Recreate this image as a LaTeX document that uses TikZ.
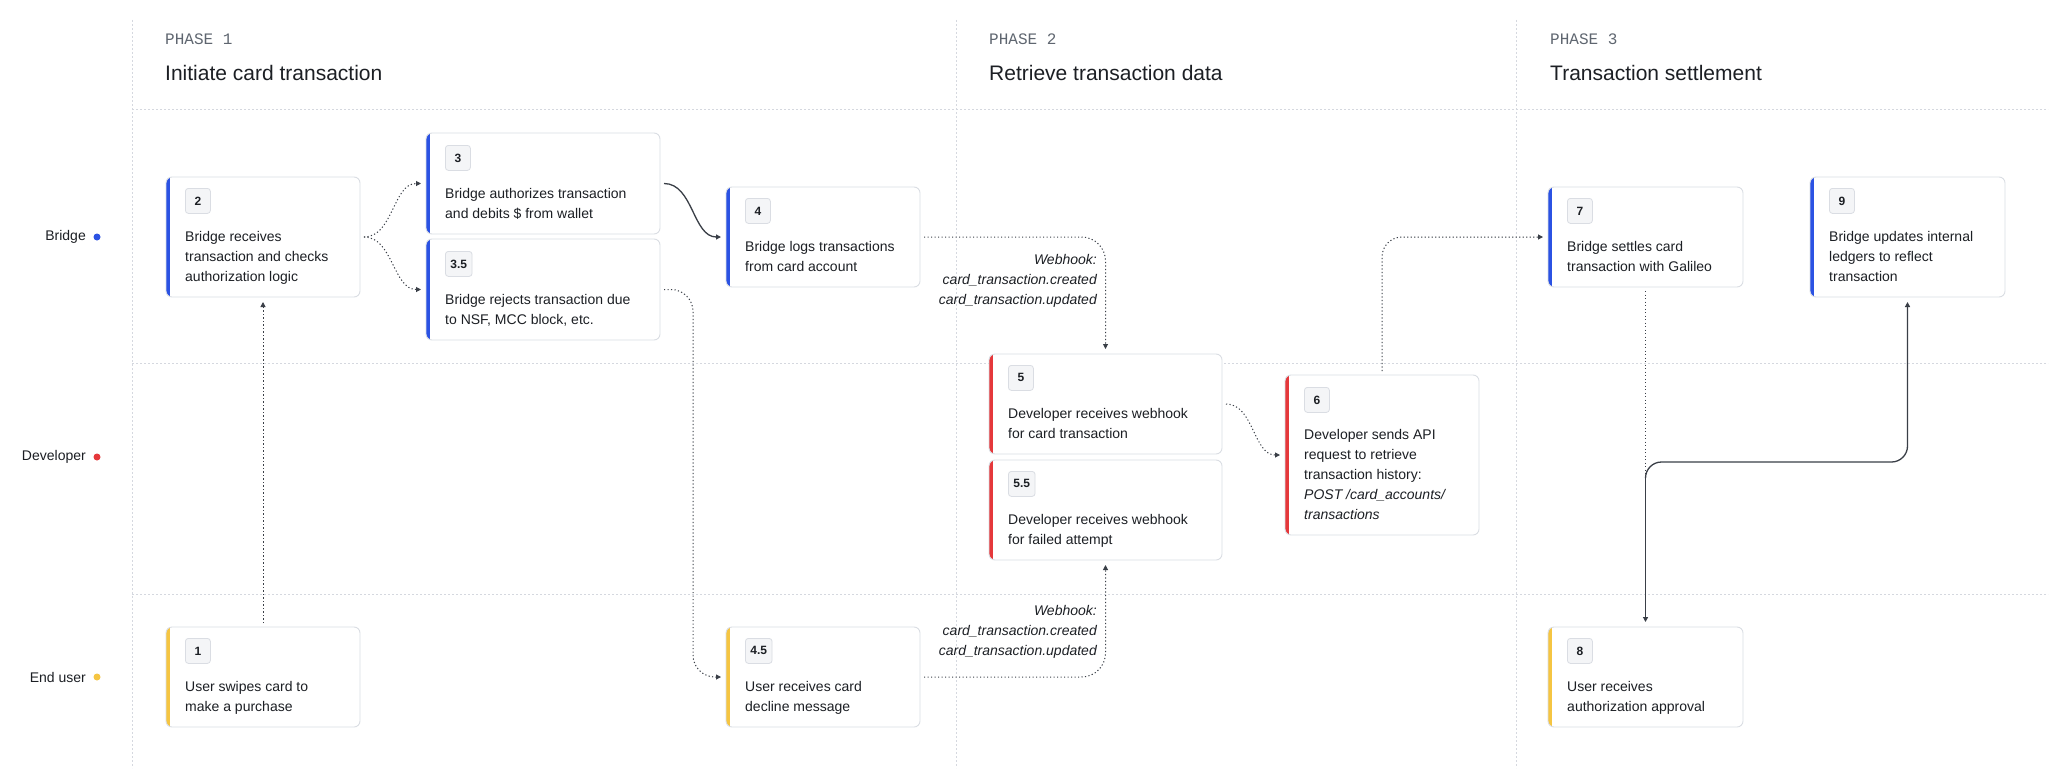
\documentclass[tikz,border=0pt]{standalone}
\usepackage{fontspec}
\setmainfont{Liberation Sans}
\setmonofont{Liberation Mono}
\usetikzlibrary{arrows.meta,calc}

\definecolor{bridgeblue}{HTML}{2B52E3}
\definecolor{devred}{HTML}{E5383B}
\definecolor{useryellow}{HTML}{F5C542}
\definecolor{gridgray}{HTML}{D5D8DF}
\definecolor{cardborder}{HTML}{DADDE3}
\definecolor{badgefill}{HTML}{F4F5F7}
\definecolor{inkdark}{HTML}{1C1F24}
\definecolor{phasegray}{HTML}{5F6670}
\definecolor{linkgray}{HTML}{3A3F47}

\tikzset{
    card/.style={draw=cardborder, line width=0.9pt, fill=white, rounded corners=6pt,
        anchor=north west, inner sep=0pt, outer sep=0pt,
        path picture={\fill[#1, sharp corners] (path picture bounding box.north west)
            rectangle ([xshift=3.5pt]path picture bounding box.south west);}},
    badge/.style={draw=cardborder, fill=badgefill, rounded corners=3pt, anchor=north west,
        minimum width=25pt, minimum height=25pt, inner xsep=5pt, inner ysep=0pt,
        line width=0.8pt, text=inkdark, font=\bfseries\fontsize{12}{12}\selectfont},
    cardtext/.style={anchor=north west, inner sep=0pt, align=left, text=inkdark,
        font=\fontsize{14}{20}\selectfont},
    hooklabel/.style={anchor=north east, inner sep=0pt, align=right, text=inkdark,
        font=\fontsize{14}{20}\selectfont\itshape},
    phase/.style={anchor=west, inner sep=0pt, text=phasegray, font=\ttfamily\fontsize{16}{16}\selectfont},
    phasetitle/.style={anchor=west, inner sep=0pt, text=inkdark, font=\fontsize{21}{21}\selectfont},
    lanelabel/.style={anchor=east, inner sep=0pt, text=inkdark, font=\fontsize{14}{14}\selectfont},
    lanedot/.style={circle, inner sep=0pt, minimum size=7pt},
    grid/.style={draw=gridgray, line width=0.7pt, dash pattern=on 2pt off 2pt},
    link/.style={draw=linkgray, line width=1pt, dash pattern=on 1.2pt off 2.3pt,
        -{Triangle[length=5pt,width=5pt]}, shorten >=5pt, shorten <=4pt},
    solidlink/.style={draw=linkgray, line width=1.3pt,
        -{Triangle[length=5pt,width=5pt]}, shorten >=5pt, shorten <=4pt},
}

\begin{document}
\begin{tikzpicture}[x=1pt,y=-1pt]
    \fill[white] (0,0) rectangle (2052,768);
    \useasboundingbox (0,0) rectangle (2052,768);

    % grid
    \draw[grid] (132,20) -- (132,768);
    \draw[grid] (956,20) -- (956,768);
    \draw[grid] (1516,20) -- (1516,768);
    \draw[grid] (132,109) -- (2048,109);
    \draw[grid] (132,363) -- (2048,363);
    \draw[grid] (132,594) -- (2048,594);

    % phase headers
    \node[phase] (p1) at (165,39) {PHASE 1};
    \node[phasetitle] (p1t) at (165,73) {Initiate card transaction};
    \node[phase] (p2) at (989,39) {PHASE 2};
    \node[phasetitle] (p2t) at (989,73) {Retrieve transaction data};
    \node[phase] (p3) at (1550,39) {PHASE 3};
    \node[phasetitle] (p3t) at (1550,73) {Transaction settlement};

    % lanes
    \node[lanelabel] (lbridge) at (86,237) {Bridge};
    \node[lanedot, fill=bridgeblue] (dbridge) at (97,237) {};
    \node[lanelabel] (ldev) at (86,457) {Developer};
    \node[lanedot, fill=devred] (ddev) at (97,457) {};
    \node[lanelabel] (luser) at (86,677) {End user};
    \node[lanedot, fill=useryellow] (duser) at (97,677) {};

    % phase 1
    \node[card=useryellow, minimum width=194pt, minimum height=100pt] (b1) at (166,627) {};
    \node[badge] (b1n) at ([shift={(19,11)}]b1.north west) {1};
    \node[cardtext] (b1t) at ([shift={(19,54)}]b1.north west) {User swipes card to\\make a purchase};

    \node[card=bridgeblue, minimum width=194pt, minimum height=120pt] (b2) at (166,177) {};
    \node[badge] (b2n) at ([shift={(19,11)}]b2.north west) {2};
    \node[cardtext] (b2t) at ([shift={(19,54)}]b2.north west) {Bridge receives\\transaction and checks\\authorization logic};

    \node[card=bridgeblue, minimum width=234pt, minimum height=101pt] (b3) at (426,133) {};
    \node[badge] (b3n) at ([shift={(19,12)}]b3.north west) {3};
    \node[cardtext] (b3t) at ([shift={(19,55)}]b3.north west) {Bridge authorizes transaction\\and debits \$ from wallet};

    \node[card=bridgeblue, minimum width=234pt, minimum height=101pt] (b35) at (426,239) {};
    \node[badge] (b35n) at ([shift={(19,12)}]b35.north west) {3.5};
    \node[cardtext] (b35t) at ([shift={(19,55)}]b35.north west) {Bridge rejects transaction due\\to NSF, MCC block, etc.};

    \node[card=bridgeblue, minimum width=194pt, minimum height=100pt] (b4) at (726,187) {};
    \node[badge] (b4n) at ([shift={(19,11)}]b4.north west) {4};
    \node[cardtext] (b4t) at ([shift={(19,54)}]b4.north west) {Bridge logs transactions\\from card account};

    \node[card=useryellow, minimum width=194pt, minimum height=100pt] (b45) at (726,627) {};
    \node[badge] (b45n) at ([shift={(19,11)}]b45.north west) {4.5};
    \node[cardtext] (b45t) at ([shift={(19,54)}]b45.north west) {User receives card\\decline message};

    % phase 2
    \node[card=devred, minimum width=233pt, minimum height=100pt] (b5) at (989,354) {};
    \node[badge] (b5n) at ([shift={(19,11)}]b5.north west) {5};
    \node[cardtext] (b5t) at ([shift={(19,54)}]b5.north west) {Developer receives webhook\\for card transaction};

    \node[card=devred, minimum width=233pt, minimum height=100pt] (b55) at (989,460) {};
    \node[badge] (b55n) at ([shift={(19,11)}]b55.north west) {5.5};
    \node[cardtext] (b55t) at ([shift={(19,54)}]b55.north west) {Developer receives webhook\\for failed attempt};

    \node[card=devred, minimum width=194pt, minimum height=160pt] (b6) at (1285,375) {};
    \node[badge] (b6n) at ([shift={(19,12)}]b6.north west) {6};
    \node[cardtext] (b6t) at ([shift={(19,54)}]b6.north west) {Developer sends API\\request to retrieve\\transaction history:\\\textit{POST /card\_accounts/}\\\textit{transactions}};

    % phase 3
    \node[card=bridgeblue, minimum width=195pt, minimum height=100pt] (b7) at (1548,187) {};
    \node[badge] (b7n) at ([shift={(19,11)}]b7.north west) {7};
    \node[cardtext] (b7t) at ([shift={(19,54)}]b7.north west) {Bridge settles card\\transaction with Galileo};

    \node[card=useryellow, minimum width=195pt, minimum height=100pt] (b8) at (1548,627) {};
    \node[badge] (b8n) at ([shift={(19,11)}]b8.north west) {8};
    \node[cardtext] (b8t) at ([shift={(19,54)}]b8.north west) {User receives\\authorization approval};

    \node[card=bridgeblue, minimum width=195pt, minimum height=120pt] (b9) at (1810,177) {};
    \node[badge] (b9n) at ([shift={(19,11)}]b9.north west) {9};
    \node[cardtext] (b9t) at ([shift={(19,54)}]b9.north west) {Bridge updates internal\\ledgers to reflect\\transaction};

    % webhook labels
    \node[hooklabel] (hook1) at (1097,254) {Webhook:\\card\_transaction.created\\card\_transaction.updated};
    \node[hooklabel] (hook2) at (1097,605) {Webhook:\\card\_transaction.created\\card\_transaction.updated};

    % connectors
    \draw[link] (b1.north) -- (b2.south);
    \draw[link] (b2.east) to[out=0,in=180] (b3.west);
    \draw[link] (b2.east) to[out=0,in=180] (b35.west);
    \draw[solidlink] (b3.east) to[out=0,in=180] (b4.west);
    \draw[link, rounded corners=22pt] (b35.east) -| ($(b35.east)!.5!(b45.west)$) |- (b45.west);
    \draw[link, rounded corners=24pt] (b4.east) -| (b5.north);
    \draw[link, rounded corners=24pt] (b45.east) -| (b55.south);
    \draw[link] (b5.east) to[out=0,in=180] (b6.west);
    \draw[link, rounded corners=20pt] (b6.north) |- (b7.west);

    \coordinate (split) at (b7.south |- 0,477);
    \draw[link, -, shorten >=0pt] (b7.south) -- (split);
    \draw[solidlink, shorten <=0pt] (split) -- (b8.north);
    \draw[solidlink, shorten <=0pt, rounded corners=16pt] (split) -- (split |- 0,462) -| (b9.south);
\end{tikzpicture}
\end{document}
